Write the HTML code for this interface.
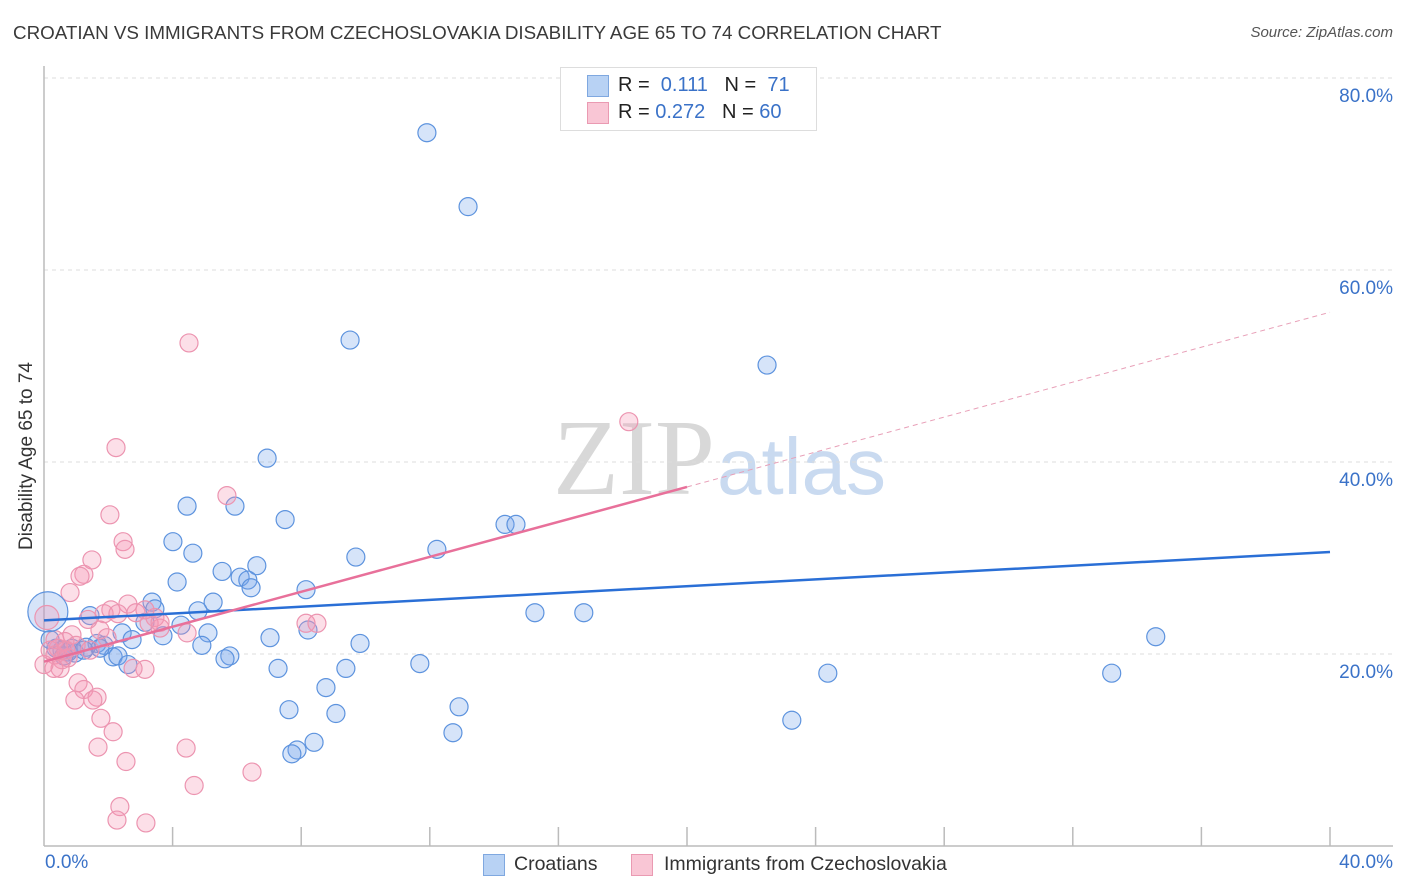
<!DOCTYPE html>
<html><head><meta charset="utf-8">
<style>
body{margin:0;background:#fff;font-family:"Liberation Sans",sans-serif;}
#wrap{position:relative;width:1406px;height:892px;overflow:hidden;}
.t{position:absolute;white-space:nowrap;}
</style></head>
<body><div id="wrap">
<div class="t" style="left:13px;top:22px;font-size:18.8px;color:#3a3a3a;">CROATIAN VS IMMIGRANTS FROM CZECHOSLOVAKIA DISABILITY AGE 65 TO 74 CORRELATION CHART</div>
<div class="t" style="right:13px;top:24px;font-size:15px;color:#555;font-style:italic;">Source: ZipAtlas.com</div>
<div class="t" style="left:27px;top:456px;font-size:19px;color:#333;transform:translate(-50%,-50%) rotate(-90deg);">Disability Age 65 to 74</div>
<svg id="svg" width="1406" height="892" style="position:absolute;left:0;top:0">
<text x="553" y="494" font-family="Liberation Serif,serif" font-size="108" fill="#d8d8d8">ZIP</text>
<text x="717" y="494" font-family="Liberation Sans,sans-serif" font-size="80" fill="#c9daf0">atlas</text>
</svg>
<div style="position:absolute;left:560px;top:67px;width:255px;height:62px;border:1px solid #ddd;background:#fff;"></div>
<div style="position:absolute;left:587px;top:75px;width:20px;height:20px;background:#b8d2f4;border:1px solid #7fa8e0;"></div>
<div style="position:absolute;left:587px;top:102px;width:20px;height:20px;background:#f9c6d5;border:1px solid #ea9ab2;"></div>
<div class="t" style="left:618px;top:74px;font-size:20px;color:#222;">R = &nbsp;<span style="color:#3a72c8">0.111</span>&nbsp;&nbsp; N = &nbsp;<span style="color:#3a72c8">71</span></div>
<div class="t" style="left:618px;top:101px;font-size:20px;color:#222;">R = <span style="color:#3a72c8">0.272</span>&nbsp;&nbsp; N = <span style="color:#3a72c8">60</span></div>
<div style="position:absolute;left:483px;top:854px;width:20px;height:20px;background:#b8d2f4;border:1px solid #7fa8e0;"></div>
<div class="t" style="left:514px;top:853px;font-size:19.5px;color:#333;">Croatians</div>
<div style="position:absolute;left:631px;top:854px;width:20px;height:20px;background:#f9c6d5;border:1px solid #ea9ab2;"></div>
<div class="t" style="left:664px;top:853px;font-size:19.5px;color:#333;">Immigrants from Czechoslovakia</div>
<div class="t" style="left:45px;top:852px;font-size:19px;color:#3a72c8;">0.0%</div>
<div class="t" style="right:13px;top:852px;font-size:19px;color:#3a72c8;">40.0%</div>
<script>
const yTicks=[20,40,60,80];
const yTickLabels=["20.0%","40.0%","60.0%","80.0%"];
const xTicks=[4,8,12,16,20,24,28,32,36,40];
const blueX=[11.91,13.19,9.52,22.49,6.94,4.45,5.94,7.50,14.34,14.68,12.22,4.01,4.63,9.70,6.62,5.54,6.10,6.34,6.44,4.14,8.15,3.36,3.45,5.26,4.79,15.27,16.79,1.43,3.14,4.26,2.43,5.10,3.70,7.03,8.21,9.83,34.58,2.74,1.65,1.87,1.31,0.87,0.56,0.96,2.15,2.30,4.91,5.78,5.63,2.61,7.28,9.39,11.69,24.38,33.21,8.77,7.62,9.08,12.91,23.26,12.72,8.40,7.87,7.71,0.19,0.37,0.75,1.74,1.24,0.62];
const blueY=[74.3,66.6,52.7,50.1,40.4,35.4,35.4,34.0,33.5,33.5,30.9,31.7,30.5,30.1,29.2,28.6,28.0,27.7,26.9,27.5,26.7,25.4,24.7,25.4,24.5,24.3,24.3,24.0,23.3,23.0,22.2,22.2,21.9,21.7,22.5,21.1,21.8,21.5,21.1,20.9,20.7,20.6,20.4,20.1,19.7,19.8,20.9,19.8,19.5,18.9,18.5,18.5,19.0,18.0,18.0,16.5,14.2,13.8,14.5,13.1,11.8,10.8,10.0,9.6,21.5,20.6,20.2,20.6,20.4,19.8];
const pinkX=[4.51,18.19,2.24,5.69,2.05,2.46,2.52,1.49,1.24,1.12,0.81,2.61,2.08,1.87,2.30,2.86,3.45,3.27,3.61,4.45,1.74,1.37,8.15,8.49,0.87,0.65,0.44,0.19,0.34,0.56,0.75,0.50,0.31,3.14,2.77,1.06,1.24,0.96,1.65,1.52,1.77,2.15,1.68,4.42,2.55,6.47,4.67,2.36,2.27,3.17,0,0.34,0.68,1.43,1.00,1.96,3.61,3.14];
const pinkY=[52.4,44.2,41.5,36.5,34.5,31.7,30.9,29.8,28.3,28.1,26.4,25.2,24.6,24.2,24.2,24.3,23.8,23.2,22.7,22.2,22.5,23.6,23.2,23.2,22.0,21.3,20.6,20.4,19.9,19.4,19.6,18.5,18.5,18.4,18.5,17.0,16.3,15.2,15.5,15.2,13.3,11.9,10.3,10.2,8.8,7.7,6.3,4.1,2.7,2.4,18.9,21.5,20.4,20.4,20.9,21.7,23.3,24.6];
const bigBlue=[0.12,24.4];
const bigPink=[0.09,23.8];
const blueTrend=[23.5,0.178];
const pinkTrend=[19.2,0.91];
const pinkSolidEnd=20;

const X0=44,X1=1330,Y0=846,PY=9.6;
const sx=v=>X0+(X1-X0)*v/40;
const sy=v=>Y0-v*PY;
const svg=document.getElementById('svg');
const NS='http://www.w3.org/2000/svg';
function mk(t,a){const e=document.createElementNS(NS,t);for(const k in a)e.setAttribute(k,a[k]);svg.appendChild(e);return e;}
const wrap=document.getElementById('wrap');
yTicks.forEach((v,i)=>{
  const g=mk('line',{x1:X0,x2:1393,y1:sy(v),y2:sy(v),stroke:'#dcdcdc','stroke-dasharray':'4,4','stroke-width':1});
  
  
  const d=document.createElement('div');d.className='t';
  d.style.cssText='right:13px;top:'+(sy(v)+8)+'px;font-size:19px;color:#3a72c8;';
  d.textContent=yTickLabels[i];
  
  
  wrap.appendChild(d);
});
const ax=mk('line',{x1:X0,x2:X0,y1:66,y2:Y0,stroke:'#bbb','stroke-width':1.5});


const bx=mk('line',{x1:X0,x2:1393,y1:Y0,y2:Y0,stroke:'#bbb','stroke-width':1.5});


xTicks.forEach(v=>{
  const t=mk('line',{x1:sx(v),x2:sx(v),y1:827,y2:Y0,stroke:'#bbb','stroke-width':1.5});
  
  
});
blueX.forEach((x,i)=>{
  const c=mk('circle',{cx:sx(x),cy:sy(blueY[i]),r:9,fill:'rgba(120,165,235,0.3)',stroke:'#5d93de','stroke-width':1.2});
  
  
});
pinkX.forEach((x,i)=>{
  const c=mk('circle',{cx:sx(x),cy:sy(pinkY[i]),r:9,fill:'rgba(245,150,180,0.3)',stroke:'#ec94b0','stroke-width':1.2});
  
  
});
const b1=mk('circle',{cx:sx(bigBlue[0]),cy:sy(bigBlue[1]),r:20,fill:'rgba(120,165,235,0.3)',stroke:'#5d93de','stroke-width':1.2});


const b2=mk('circle',{cx:sx(bigPink[0]),cy:sy(bigPink[1]),r:12,fill:'rgba(245,150,180,0.3)',stroke:'#ec94b0','stroke-width':1.2});


const bt=mk('line',{x1:sx(0),y1:sy(blueTrend[0]),x2:sx(40),y2:sy(blueTrend[0]+blueTrend[1]*40),stroke:'#2a6fd6','stroke-width':2.5});


const pt=mk('line',{x1:sx(0),y1:sy(pinkTrend[0]),x2:sx(pinkSolidEnd),y2:sy(pinkTrend[0]+pinkTrend[1]*pinkSolidEnd),stroke:'#e8709a','stroke-width':2.5});


const pd=mk('line',{x1:sx(pinkSolidEnd),y1:sy(pinkTrend[0]+pinkTrend[1]*pinkSolidEnd),x2:sx(40),y2:sy(pinkTrend[0]+pinkTrend[1]*40),stroke:'#e8a0b8','stroke-width':1,'stroke-dasharray':'5,4'});


</script>
</div></body></html>
